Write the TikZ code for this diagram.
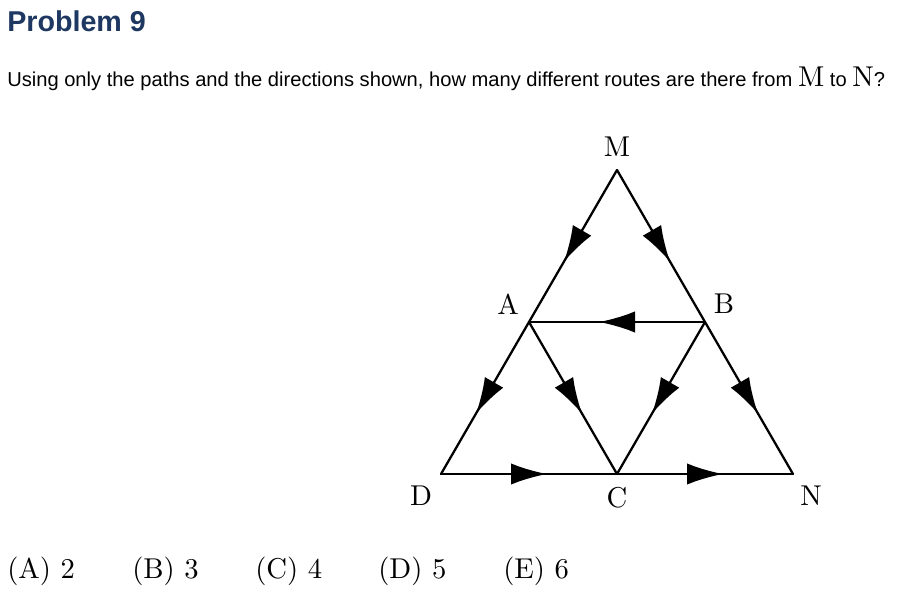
\documentclass[tikz,border=0pt]{standalone}
\usepackage{fontspec}
\setmainfont{lmroman10-regular.otf}
\newfontfamily\headfont{Liberation Sans}
\usetikzlibrary{arrows.meta,decorations.markings}
\definecolor{probblue}{RGB}{30,56,98}

\begin{document}
\begin{tikzpicture}[x=0.75pt, y=-0.75pt,
  road/.style={line width=1.7pt, line cap=round, postaction={decorate},
    decoration={markings, mark=at position 0.5 with
      {\arrow[xshift=13.5pt]{Latex[length=27pt,width=16pt]}}}},
  pt/.style={font=\fontsize{21.5}{26}\selectfont}]
  \useasboundingbox (0,0) rectangle (900,592);

  % 見出し
  \node [anchor=base west, inner sep=0, text=probblue,
    font=\headfont\bfseries\fontsize{21.5}{26}\selectfont] (title) at (7,32) {Problem 9};

  % 問題文
  \node [anchor=base west, inner sep=0, font=\headfont\fontsize{15.1}{19}\selectfont] (question) at (7,87)
    {Using only the paths and the directions shown, how many different routes are there from
     {\rmfamily\fontsize{21.5}{26}\selectfont M} to {\rmfamily\fontsize{21.5}{26}\selectfont N}?};

  % 頂点
  \coordinate (M) at (617,170);
  \coordinate (A) at (529,322);
  \coordinate (B) at (705,322);
  \coordinate (D) at (441,474);
  \coordinate (C) at (617,474);
  \coordinate (N) at (793,474);

  % 道と向き
  \draw [road] (M) -- (A);
  \draw [road] (M) -- (B);
  \draw [road] (B) -- (A);
  \draw [road] (A) -- (D);
  \draw [road] (A) -- (C);
  \draw [road] (B) -- (C);
  \draw [road] (B) -- (N);
  \draw [road] (D) -- (C);
  \draw [road] (C) -- (N);

  % 頂点の名前
  \node [pt] (labM) at (617,147) {M};
  \node [pt] (labA) at (508,304) {A};
  \node [pt] (labB) at (724,304) {B};
  \node [pt] (labD) at (421,496) {D};
  \node [pt] (labC) at (617,498) {C};
  \node [pt] (labN) at (811,496) {N};

  % 選択肢
  \node [pt, anchor=base west, inner sep=0] (ansA) at (7,578) {(A) 2};
  \node [pt, anchor=base west, inner sep=0] (ansB) at (132,578) {(B) 3};
  \node [pt, anchor=base west, inner sep=0] (ansC) at (255,578) {(C) 4};
  \node [pt, anchor=base west, inner sep=0] (ansD) at (378,578) {(D) 5};
  \node [pt, anchor=base west, inner sep=0] (ansE) at (503,578) {(E) 6};

\end{tikzpicture}
\end{document}
